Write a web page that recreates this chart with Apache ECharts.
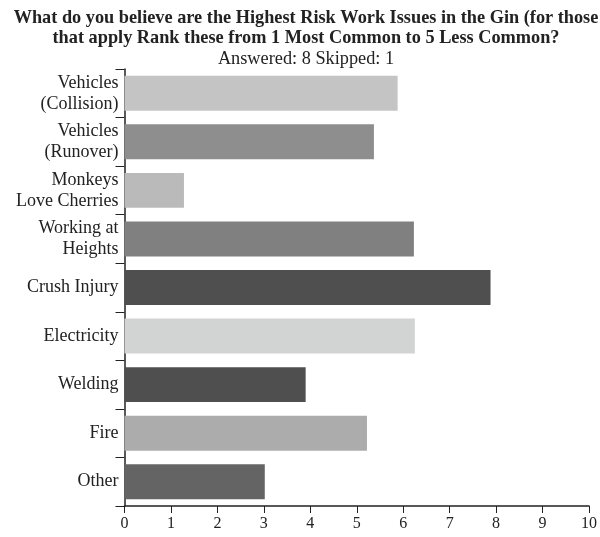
<!DOCTYPE html>
<html>
<head>
<meta charset="utf-8">
<script src="https://cdn.jsdelivr.net/npm/echarts@6/dist/echarts.min.js"></script>
<style>
html,body{margin:0;padding:0;background:#fff;}
#chart{width:600px;height:537px;}
</style>
</head>
<body>
<div id="chart"></div>
<script>
var categories = ["Vehicles\n(Collision)", "Vehicles\n(Runover)", "Monkeys\nLove Cherries", "Working at\nHeights", "Crush Injury", "Electricity", "Welding", "Fire", "Other"];
var values = [5.88, 5.37, 1.28, 6.23, 7.88, 6.25, 3.9, 5.22, 3.02];
var barColors = ["#c4c4c4", "#8e8e8e", "#bababa", "#808080", "#4f4f4f", "#d2d4d3", "#4f4f4f", "#acacac", "#646464"];
var xTicks = [0, 1, 2, 3, 4, 5, 6, 7, 8, 9, 10];

var font = "Liberation Serif";
var chart = echarts.init(document.getElementById('chart'), null, {renderer: 'canvas'});
chart.setOption({
  animation: false,
  backgroundColor: '#fff',
  title: {
    text: "What do you believe are the Highest Risk Work Issues in the Gin (for those\nthat apply Rank these from 1 Most Common to 5 Less Common?",
    subtext: "Answered: 8 Skipped: 1",
    left: 301, top: 3, textAlign: 'center',
    itemGap: 0,
    textStyle: {fontFamily: font, fontWeight: 'bold', fontSize: 18.3, color: '#222', lineHeight: 20.5},
    subtextStyle: {fontFamily: font, fontSize: 18.3, color: '#222', lineHeight: 21}
  },
  grid: {left: 124.5, right: 10.7, top: 69, bottom: 31, containLabel: false},
  xAxis: {
    type: 'value', min: xTicks[0], max: xTicks[xTicks.length - 1], interval: 1,
    axisLine: {show: true, lineStyle: {color: '#222', width: 1.5}},
    axisTick: {show: true, length: 7, lineStyle: {color: '#222', width: 1}},
    axisLabel: {fontFamily: font, fontSize: 16, color: '#222', margin: 10},
    splitLine: {show: false}
  },
  yAxis: {
    type: 'category', data: categories, inverse: true,
    axisLine: {show: true, lineStyle: {color: '#222', width: 1.5}},
    axisTick: {show: true, length: 9, lineStyle: {color: '#222', width: 1}},
    axisLabel: {fontFamily: font, fontSize: 18, color: '#222', margin: 6, lineHeight: 21, align: 'right'}
  },
  series: [{
    type: 'bar',
    data: values.map(function (v, i) { return {value: v, itemStyle: {color: barColors[i]}}; }),
    barWidth: '72%'
  }]
});
</script>
</body>
</html>
